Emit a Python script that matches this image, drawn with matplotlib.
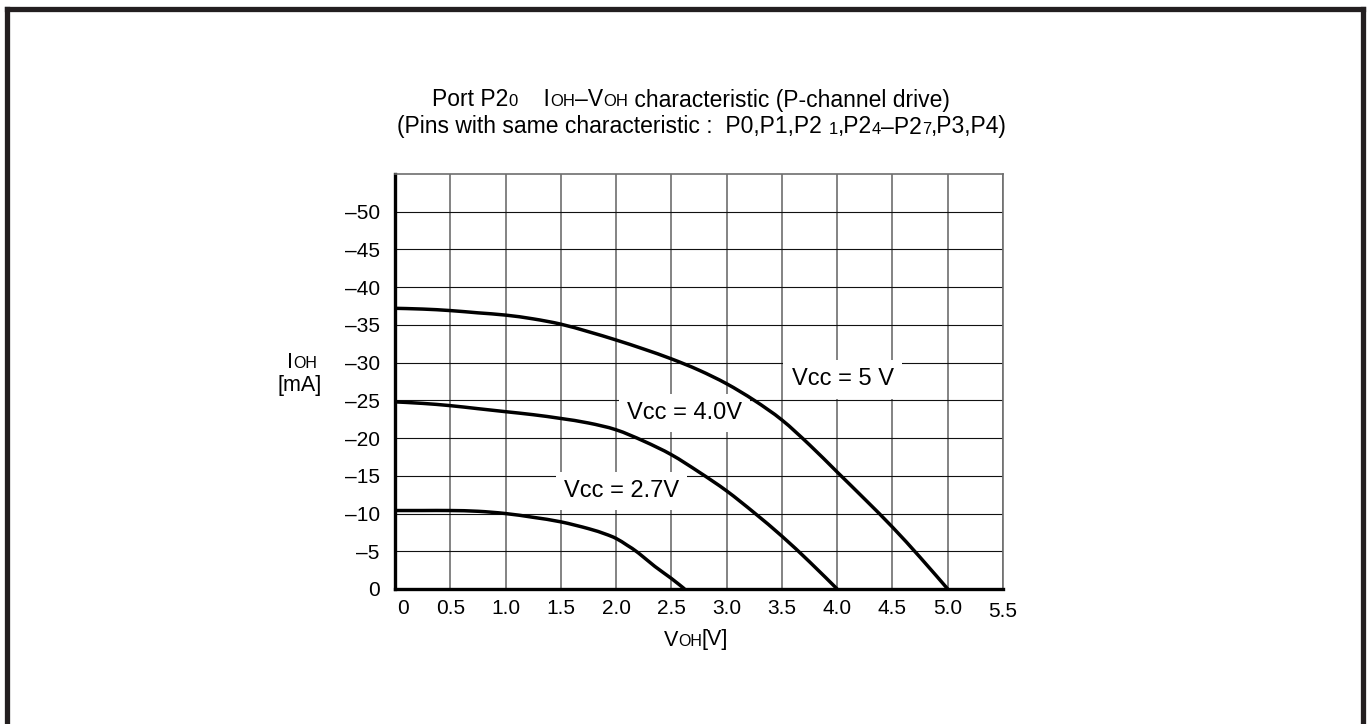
import numpy as np
import matplotlib
matplotlib.use("Agg")
import matplotlib.pyplot as plt
from matplotlib.lines import Line2D
from matplotlib.path import Path
from matplotlib.patches import PathPatch
from matplotlib.offsetbox import TextArea, HPacker, AnnotationBbox
from matplotlib.transforms import ScaledTranslation

plt.rcParams['font.family'] = ['Liberation Sans', 'DejaVu Sans']

# ---- data ----
voh_5v = [0.0, 0.25, 0.5, 0.75, 1.0, 1.25, 1.5, 1.75, 2.0, 2.25, 2.5, 2.75, 3.0, 3.25, 3.5, 3.75, 4.0, 4.25, 4.5, 4.75, 5.0]
ioh_5v = [-37.2, -37.1, -36.9, -36.6, -36.3, -35.8, -35.1, -34.1, -33.0, -31.8, -30.5, -29.0, -27.2, -25.0, -22.4, -19.1, -15.5, -11.9, -8.2, -4.2, 0.0]

voh_4v = [0.0, 0.25, 0.5, 0.75, 1.0, 1.25, 1.5, 1.75, 2.0, 2.25, 2.5, 2.75, 3.0, 3.25, 3.5, 3.75, 4.0]
ioh_4v = [-24.8, -24.6, -24.3, -23.9, -23.5, -23.1, -22.6, -22.0, -21.1, -19.6, -17.8, -15.5, -13.0, -10.1, -7.0, -3.6, 0.0]

voh_27v = [0.0, 0.25, 0.5, 0.75, 1.0, 1.25, 1.5, 1.75, 1.9, 2.0, 2.1, 2.2, 2.35, 2.5, 2.62]
ioh_27v = [-10.4, -10.4, -10.4, -10.3, -10.0, -9.5, -8.9, -8.0, -7.3, -6.7, -5.8, -4.8, -3.0, -1.4, 0.0]

series_labels = ["Vcc = 5 V", "Vcc = 4.0V", "Vcc = 2.7V"]

x_ticks = [0.0, 0.5, 1.0, 1.5, 2.0, 2.5, 3.0, 3.5, 4.0, 4.5, 5.0, 5.5]
x_tick_labels = ["0", "0.5", "1.0", "1.5", "2.0", "2.5", "3.0", "3.5", "4.0", "4.5", "5.0", "5.5"]
y_ticks = [0, -5, -10, -15, -20, -25, -30, -35, -40, -45, -50]
y_tick_labels = ["0", "–5", "–10", "–15", "–20", "–25", "–30", "–35", "–40", "–45", "–50"]

# ---- figure ----
W, H = 1369, 724
fig = plt.figure(figsize=(W / 100, H / 100), dpi=100)
fig.patch.set_facecolor("white")

# outer frame (left, top, right)
frame_col = "#231f20"
lw_frame = 3.8
fig.add_artist(Line2D([6.5 / W, 6.5 / W], [0, 1 - 8.5 / H], transform=fig.transFigure, color=frame_col, lw=lw_frame, solid_capstyle="projecting"))
fig.add_artist(Line2D([6.5 / W, 1 - 6.5 / W], [1 - 8.5 / H, 1 - 8.5 / H], transform=fig.transFigure, color=frame_col, lw=lw_frame, solid_capstyle="projecting"))
fig.add_artist(Line2D([1 - 6.5 / W, 1 - 6.5 / W], [0, 1 - 8.5 / H], transform=fig.transFigure, color=frame_col, lw=lw_frame, solid_capstyle="projecting"))

left, right, top, bottom = 395, 1003, 174, 589
ax = fig.add_axes([left / W, 1 - bottom / H, (right - left) / W, (bottom - top) / H])
ax.set_xlim(0, 5.5)
ax.set_ylim(0, -55)

ax.set_xticks(x_ticks, x_tick_labels)
ax.set_yticks(y_ticks, y_tick_labels)
ax.tick_params(axis="both", length=0, labelsize=15)
ax.tick_params(axis="x", pad=7)
ax.tick_params(axis="y", pad=11)

ax.set_axisbelow(True)
ax.grid(axis="x", color="#6e6e6e", lw=1.2)
ax.grid(axis="y", color="#111111", lw=0.8)

for s in ["left", "bottom"]:
    ax.spines[s].set_color("black")
    ax.spines[s].set_linewidth(2.4)
for s in ["top", "right"]:
    ax.spines[s].set_color("#6e6e6e")
    ax.spines[s].set_linewidth(1.2)


def smooth_path(xs, ys):
    """Smooth rendering through the measured points (Catmull-Rom as cubic Bezier)."""
    p = np.column_stack([xs, ys]).astype(float)
    ext = np.vstack([p[0], p, p[-1]])
    verts = [tuple(p[0])]
    codes = [Path.MOVETO]
    for i in range(1, len(ext) - 2):
        p0, p1, p2, p3 = ext[i - 1], ext[i], ext[i + 1], ext[i + 2]
        c1 = p1 + (p2 - p0) / 6.0
        c2 = p2 - (p3 - p1) / 6.0
        verts += [tuple(c1), tuple(c2), tuple(p2)]
        codes += [Path.CURVE4] * 3
    return Path(verts, codes)


for vx, iy in [(voh_5v, ioh_5v), (voh_4v, ioh_4v), (voh_27v, ioh_27v)]:
    ax.add_patch(PathPatch(smooth_path(vx, iy), fill=False, ec="black", lw=2.5,
                           zorder=4, joinstyle="round", capstyle="butt"))

# curve labels with white boxes
label_pos = [(4.05, -27.8), (2.62, -23.3), (2.05, -13.0)]
for txt, (lx, ly) in zip(series_labels, label_pos):
    ax.text(lx, ly, txt, fontsize=17, ha="center", va="center", zorder=3,
            bbox=dict(boxstyle="square,pad=0.35", fc="white", ec="none"))

# shift a couple of tick labels like the original
ticks = ax.xaxis.get_major_ticks()
ticks[0].label1.set_transform(ticks[0].label1.get_transform() + ScaledTranslation(8 / 100, 0, fig.dpi_scale_trans))
ticks[-1].label1.set_transform(ticks[-1].label1.get_transform() + ScaledTranslation(0, -3 / 100, fig.dpi_scale_trans))


def rich(parts, big, small):
    boxes = [TextArea(t, textprops=dict(size=(small if s else big), color="black")) for t, s in parts]
    return HPacker(children=boxes, align="baseline", pad=0, sep=0)


def place(box, x, y):
    ab = AnnotationBbox(box, (x, H - y), xycoords="figure pixels", frameon=False,
                        box_alignment=(0.5, 0.5), pad=0)
    fig.add_artist(ab)


# title
place(rich([("Port P2", 0), ("0", 1), ("    I", 0), ("OH", 1), ("–V", 0), ("OH", 1),
            (" characteristic (P-channel drive)", 0)], 16.5, 12), 691, 100)
place(rich([("(Pins with same characteristic :  P0,P1,P2 ", 0), ("1", 1), (",P2", 0), ("4", 1),
            ("–P2", 0), ("7", 1), (",P3,P4)", 0)], 16.5, 12), 702, 127)

# axis labels
place(rich([("V", 0), ("OH", 1), ("[V]", 0)], 15.5, 11.5), 696, 640)
place(rich([("I", 0), ("OH", 1)], 15.5, 11.5), 302, 362)
place(rich([("[mA]", 0)], 15.5, 11.5), 300, 385)

fig.savefig("out.png", dpi=100)
